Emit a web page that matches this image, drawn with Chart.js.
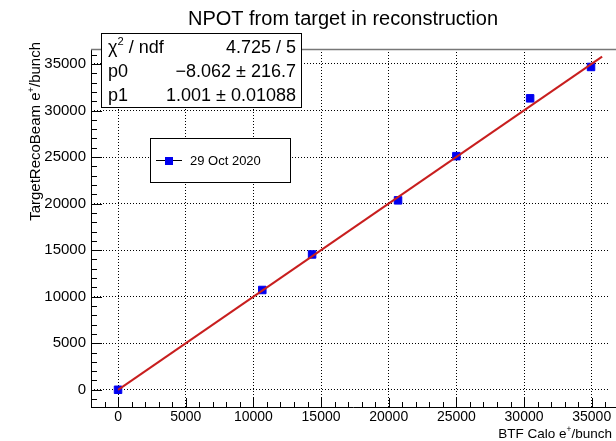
<!DOCTYPE html>
<html>
<head>
<meta charset="utf-8">
<script src="https://cdn.jsdelivr.net/npm/chart.js@4.4.0/dist/chart.umd.min.js"></script>
<style>
  html, body { margin: 0; padding: 0; background: #fff; }
</style>
</head>
<body>
<canvas id="npotChart" width="616" height="441"></canvas>
<script>
const caloX = [0, 10660, 14340, 20690, 25000, 30450, 34950];
const targetY = [0, 10720, 14540, 20350, 25100, 31310, 34680];

// ends of the fitted straight line
const fitX = [0, 35770];
const fitY = [-8, 35797];

// labelled ticks on both axes
const xTicks = [0, 5000, 10000, 15000, 20000, 25000, 30000, 35000];
const yTicks = [0, 5000, 10000, 15000, 20000, 25000, 30000, 35000];

// fit box text
const statNames = ['χ', 'p0', 'p1'];
const statValues = ['4.725 / 5', '−8.062 ± 216.7', '1.001 ± 0.01088'];

const chartTitle = 'NPOT from target in reconstruction';
const legendLabel = '29 Oct 2020';

const FONT = '"Liberation Sans", Arial, Helvetica, sans-serif';

// draw text made of normal / superscript pieces
function partsWidth(ctx, parts, size) {
    let w = 0;
    parts.forEach(([t, sup]) => {
        ctx.font = (sup ? size * 0.62 : size) + 'px ' + FONT;
        w += ctx.measureText(t).width;
    });
    return w;
}
function drawParts(ctx, parts, x, y, size) {
    let cx = x;
    parts.forEach(([t, sup]) => {
        ctx.font = (sup ? size * 0.62 : size) + 'px ' + FONT;
        ctx.fillText(t, cx, sup ? y - size * 0.42 : y);
        cx += ctx.measureText(t).width;
    });
}
function seg(ctx, x1, y1, x2, y2) {
    ctx.beginPath();
    ctx.moveTo(x1, y1);
    ctx.lineTo(x2, y2);
    ctx.stroke();
}

const rootFrame = {
    id: 'rootFrame',
    afterDraw(chart) {
        const { ctx, chartArea: a, scales: { x, y } } = chart;
        const right = chart.width;
        ctx.save();
        ctx.strokeStyle = '#000';
        ctx.fillStyle = '#000';
        ctx.lineWidth = 1;

        // ticks on the inside of the frame
        for (let v = -1000; v <= 37000; v += 1000) {
            const py = Math.round(y.getPixelForValue(v)) + 0.5;
            if (py > a.top && py < a.bottom) {
                seg(ctx, a.left, py, a.left + (v % 5000 === 0 ? 11 : 6), py);
            }
            const px = Math.round(x.getPixelForValue(v)) + 0.5;
            if (px > a.left && px < right) {
                seg(ctx, px, a.bottom, px, a.bottom - (v % 5000 === 0 ? 9 : 5));
            }
        }

        // frame
        seg(ctx, a.left + 0.5, a.top, a.left + 0.5, a.bottom + 0.5);
        seg(ctx, a.left, a.bottom + 0.5, right, a.bottom + 0.5);
        ctx.strokeStyle = '#777';
        ctx.lineWidth = 1.5;
        seg(ctx, a.left, a.top + 0.5, right, a.top + 0.5);

        // title
        ctx.textBaseline = 'alphabetic';
        ctx.textAlign = 'center';
        ctx.font = '20px ' + FONT;
        ctx.fillText(chartTitle, 343, 25);

        // axis titles
        ctx.textAlign = 'left';
        const xt = [['BTF Calo e'], ['+', true], ['/bunch']];
        drawParts(ctx, xt, 612 - partsWidth(ctx, xt, 13.5), 438, 13.5);

        const yt = [['TargetRecoBeam e'], ['+', true], ['/bunch']];
        ctx.save();
        ctx.translate(40, 42);
        ctx.rotate(-Math.PI / 2);
        drawParts(ctx, yt, -partsWidth(ctx, yt, 15), 0, 15);
        ctx.restore();

        // fit box
        ctx.fillStyle = '#fff';
        ctx.strokeStyle = '#000';
        ctx.lineWidth = 1;
        ctx.fillRect(101.5, 33.5, 200, 74);
        ctx.strokeRect(101.5, 33.5, 200, 74);
        ctx.fillStyle = '#000';
        statNames.forEach((name, i) => {
            const by = 53 + i * 24;
            ctx.textAlign = 'left';
            if (i === 0) {
                drawParts(ctx, [[name], ['2', true], [' / ndf']], 108, by, 18);
            } else {
                drawParts(ctx, [[name]], 108, by, 18);
            }
            ctx.textAlign = 'right';
            ctx.font = '18px ' + FONT;
            ctx.fillText(statValues[i], 296, by);
        });

        // legend box
        ctx.fillStyle = '#fff';
        ctx.fillRect(150.5, 138.5, 140, 44);
        ctx.strokeRect(150.5, 138.5, 140, 44);
        seg(ctx, 156, 160.5, 182, 160.5);
        ctx.fillStyle = '#0000f0';
        ctx.fillRect(165, 157, 8, 8);
        ctx.fillStyle = '#000';
        ctx.textAlign = 'left';
        ctx.textBaseline = 'middle';
        ctx.font = '13px ' + FONT;
        ctx.fillText(legendLabel, 190, 161);

        ctx.restore();
    }
};

const ctx = document.getElementById('npotChart');

new Chart(ctx, {
    type: 'scatter',
    data: {
        datasets: [
            {
                label: 'fit',
                data: fitX.map((v, i) => ({ x: v, y: fitY[i] })),
                showLine: true,
                borderColor: 'rgb(200, 30, 30)',
                borderWidth: 2,
                pointRadius: 0,
                order: 0
            },
            {
                label: legendLabel,
                data: caloX.map((v, i) => ({ x: v, y: targetY[i] })),
                pointStyle: 'rect',
                pointRadius: 5.3,
                borderWidth: 1,
                backgroundColor: '#0000f0',
                borderColor: '#0000f0',
                order: 1
            }
        ]
    },
    options: {
        responsive: false,
        animation: false,
        layout: { padding: { top: 49, left: 0, right: 0, bottom: 0 } },
        plugins: {
            legend: { display: false },
            tooltip: { enabled: false }
        },
        scales: {
            x: {
                type: 'linear',
                min: -1998,
                max: 36330,
                afterFit: scale => { scale.height = 34; },
                afterBuildTicks: scale => { scale.ticks = xTicks.map(v => ({ value: v })); },
                ticks: {
                    padding: 2,
                    color: '#000',
                    font: { family: FONT, size: 14 },
                    callback: v => String(v)
                },
                grid: { color: '#000', lineWidth: 1, drawTicks: false },
                border: { display: false, dash: [1, 2] }
            },
            y: {
                type: 'linear',
                min: -1850,
                max: 36610,
                afterFit: scale => { scale.width = 91; },
                afterBuildTicks: scale => { scale.ticks = yTicks.map(v => ({ value: v })); },
                ticks: {
                    padding: 5,
                    color: '#000',
                    font: { family: FONT, size: 15 },
                    callback: v => String(v)
                },
                grid: { color: '#000', lineWidth: 1, drawTicks: false },
                border: { display: false, dash: [1, 2] }
            }
        }
    },
    plugins: [rootFrame]
});
</script>
</body>
</html>
